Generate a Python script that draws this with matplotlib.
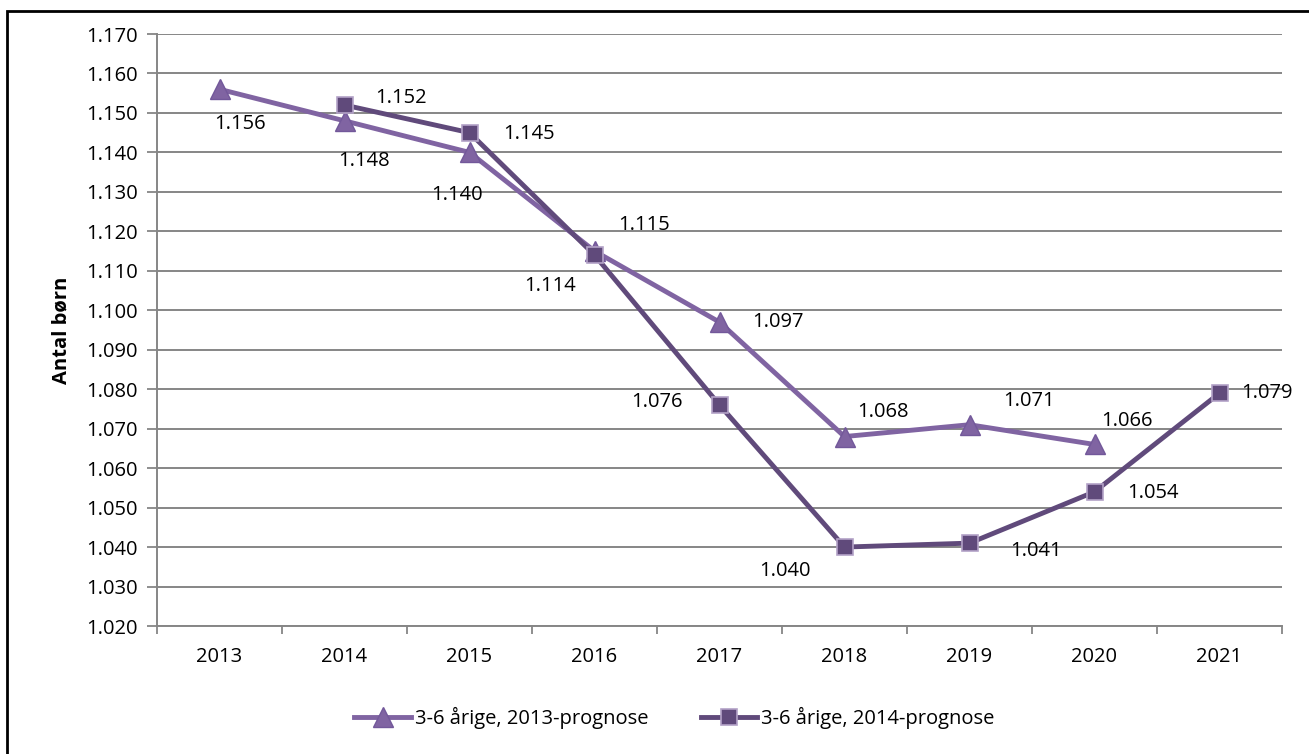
import matplotlib as mpl
mpl.use('Agg')
import matplotlib.pyplot as plt
from matplotlib.patches import Rectangle
import numpy as np

plt.rcParams['font.family'] = ['Open Sans', 'DejaVu Sans']

years = ['2013', '2014', '2015', '2016', '2017', '2018', '2019', '2020', '2021']
prog2013 = [1156, 1148, 1140, 1115, 1097, 1068, 1071, 1066]
prog2014 = [1152, 1145, 1114, 1076, 1040, 1041, 1054, 1079]
name2013 = '3-6 årige, 2013-prognose'
name2014 = '3-6 årige, 2014-prognose'

# label offsets in points (Excel placed them by hand)
off2013 = [(15, -25), (14, -29), (-9, -31), (36, 19), (42, 0), (28, 18), (43, 17), (23, 17)]
off2014 = [(41, 5), (43, -1), (-32, -22), (-45, 2), (-43, -17), (48, -6), (42, -1), (34, 0)]

c1 = '#8064A2'
c2 = '#604A7B'
fs = 14.5

fig = plt.figure(figsize=(13.09, 7.54), dpi=100)
ax = fig.add_axes([157/1309, 1-626/754, 1125/1309, 592/754])

x1 = np.arange(len(prog2013))
x2 = np.arange(1, 1 + len(prog2014))

ax.plot(x1, prog2013, color=c1, lw=3.5, marker='^', ms=15,
        mfc=c1, mec='#72589A', mew=1, label=name2013, zorder=3)
ax.plot(x2, prog2014, color=c2, lw=3.5, marker='s', ms=11.5,
        mfc=c2, mec='#B3A2C7', mew=1.2, label=name2014, zorder=4)

def fmt(v):
    return '%.3f' % (v / 1000.0)

for xi, v, o in zip(x1, prog2013, off2013):
    ax.annotate(fmt(v), (xi, v), xytext=o, textcoords='offset points',
                ha='center', va='center', fontsize=fs, zorder=5)
for xi, v, o in zip(x2, prog2014, off2014):
    ax.annotate(fmt(v), (xi, v), xytext=o, textcoords='offset points',
                ha='center', va='center', fontsize=fs, zorder=5)

ax.set_xlim(-0.5, len(years) - 0.5)
ax.set_ylim(1020, 1170)
yt = np.arange(1020, 1171, 10)
ax.set_yticks(yt)
ax.set_yticklabels([fmt(v) for v in yt], fontsize=fs)
ax.set_xticks(np.arange(len(years)))
ax.set_xticklabels(years, fontsize=fs)
ax.set_xticks(np.arange(-0.5, len(years)), minor=True)
ax.tick_params(axis='x', which='major', length=0, pad=15)
ax.tick_params(axis='x', which='minor', length=6, color='#868686', width=1.3)
ax.tick_params(axis='y', length=7, color='#868686', width=1.3, pad=7)
ax.grid(axis='y', color='#868686', lw=1.4)
ax.set_axisbelow(True)
for s in ['top', 'right']:
    ax.spines[s].set_visible(False)
for s in ['left', 'bottom']:
    ax.spines[s].set_color('#868686')
    ax.spines[s].set_linewidth(1.4)

ax.set_ylabel('Antal børn', fontsize=fs, fontweight='bold', labelpad=10)

ax.legend(loc='center', bbox_to_anchor=(0.46, -0.155), ncol=2, frameon=False,
          fontsize=fs, handlelength=2.8, columnspacing=2.6, handletextpad=0.2)

fig.patches.append(Rectangle((7/1309, -0.1), 1.2, 1 - 11/754 + 0.1,
                             transform=fig.transFigure, fill=False,
                             ec='black', lw=2))

plt.savefig('out.png', dpi=100)
